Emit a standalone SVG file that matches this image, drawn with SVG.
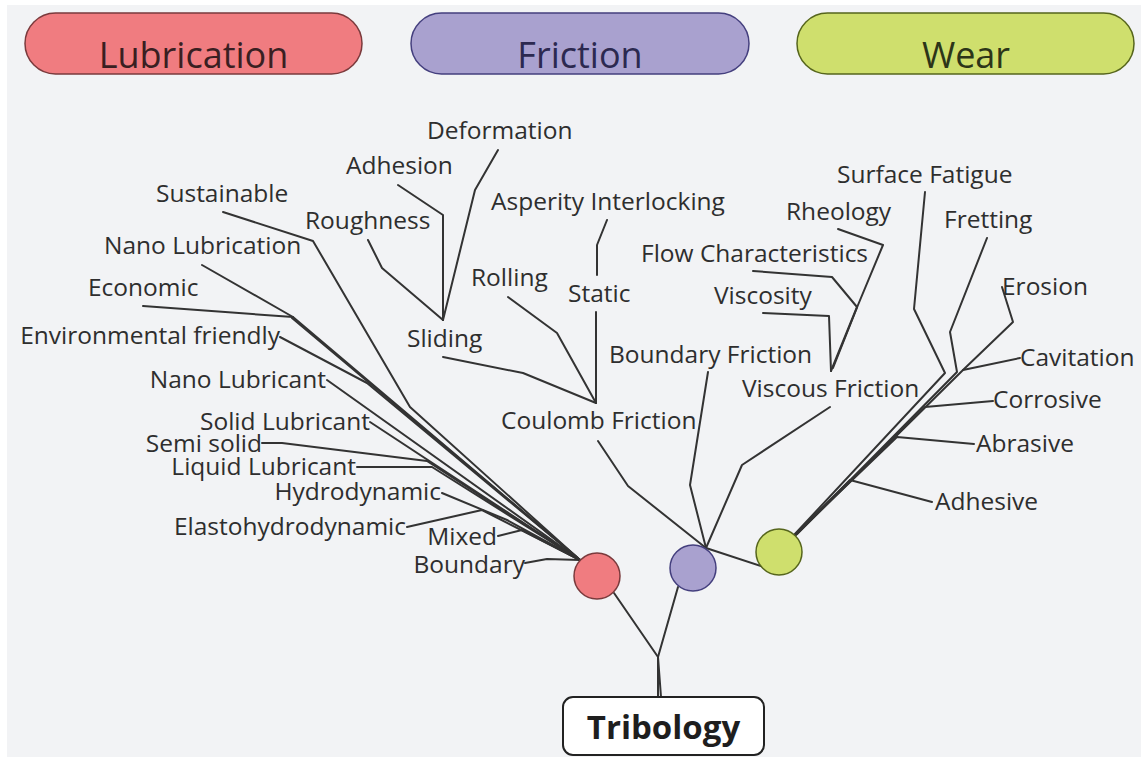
<svg xmlns="http://www.w3.org/2000/svg" width="1141" height="757" viewBox="0 0 1141 757">
<style>
.bg{fill:#f2f3f5}
.pill{stroke-width:1.5}
.pt{font-family:"Open Sans","Liberation Sans",sans-serif;font-size:36px;text-anchor:middle}
.lb{font-family:"Open Sans","Liberation Sans",sans-serif;font-size:24.5px;fill:#2e2e2e}
.e{text-anchor:end}
.c{fill:none;stroke:#333;stroke-width:2;stroke-linejoin:round;stroke-linecap:round}
.red{fill:#f07c80;stroke:#7a3a3c}
.pur{fill:#a9a1cf;stroke:#443f7e}
.grn{fill:#cfdf6d;stroke:#56651c}
</style>
<rect width="1141" height="757" fill="#ffffff"/>
<rect class="bg" x="7" y="5" width="1134" height="752"/>

<g id="legend-lubrication"><rect class="pill red" x="25" y="13" width="337" height="61" rx="30.5"/><text class="pt" x="193.5" y="68" fill="#3a1f22">Lubrication</text></g>
<g id="legend-friction"><rect class="pill pur" x="411" y="13" width="338" height="61" rx="30.5"/><text class="pt" x="580" y="68" fill="#2c2950">Friction</text></g>
<g id="legend-wear"><rect class="pill grn" x="797" y="13" width="337" height="61" rx="30.5"/><text class="pt" x="966" y="68" fill="#2c3518">Wear</text></g>

<g id="connectors" class="c">
<!-- trunk -->
<polyline points="658,697 658,657"/>
<polyline points="661,697 658,657"/>
<polyline points="658,657 614,593"/>
<polyline points="658,657 678,587"/>
<!-- lubrication -->
<polyline points="525,563 547,559 580,560"/>
<polyline points="498,536 522,530 580,560"/>
<polyline points="407,527 482,510 580,560"/>
<polyline points="442,493 507,520 580,560"/>
<polyline points="357,467 432,467 580,560"/>
<polyline points="262,443 282,443 427,461 580,560"/>
<polyline points="370,422 580,560"/>
<polyline points="327,380 580,560"/>
<polyline points="280,337 367,383 580,560"/>
<polyline points="143,306 293,317 580,560"/>
<polyline points="202,265 293,317"/>
<polyline points="292,318 578,558"/>
<polyline points="223,212 313,241 410,407 580,560"/>
<!-- friction -->
<polyline points="706,548 628,486 598,441"/>
<polyline points="706,548 690,485 708,372"/>
<polyline points="706,548 742,465 830,407"/>
<polyline points="706,548 764,567"/>
<polyline points="596,403 523,373 443,357"/>
<polyline points="596,403 557,333 508,297"/>
<polyline points="596,403 596,312"/>
<polyline points="597,275 597,245 607,220"/>
<polyline points="443,320 382,268 368,240"/>
<polyline points="443,320 443,215 398,185"/>
<polyline points="443,320 475,190 498,150"/>
<polyline points="831,371 829,316 763,313"/>
<polyline points="831,371 857,307 832,277 753,271"/>
<polyline points="833,368 858,305 883,245 838,229"/>
<!-- wear -->
<polyline points="795,535 850,480 932,502"/>
<polyline points="796,534 897,437 974,444"/>
<polyline points="797,533 925,407 993,401"/>
<polyline points="797,534 963,370 1020,358"/>
<polyline points="963,370 1013,322 1002,287"/>
<polyline points="796,535 957,372 950,332 987,238"/>
<polyline points="794,535 945,373 914,309 925,192"/>
</g>

<g id="node-lubrication"><circle class="red" cx="597" cy="576" r="23" stroke-width="1.5"/></g>
<g id="node-friction"><circle class="pur" cx="693" cy="568" r="23" stroke-width="1.5"/></g>
<g id="node-wear"><circle class="grn" cx="779" cy="552" r="23" stroke-width="1.5"/></g>
<g id="node-tribology"><rect x="563" y="697" width="201" height="58" rx="10" fill="#ffffff" stroke="#222" stroke-width="2"/><text x="663.5" y="739" font-family="'Open Sans','Liberation Sans',sans-serif" font-size="33" font-weight="bold" text-anchor="middle" fill="#1e1e1e">Tribology</text></g>

<g id="label-deformation"><text class="lb" x="427" y="139">Deformation</text></g>
<g id="label-adhesion"><text class="lb" x="346" y="174">Adhesion</text></g>
<g id="label-sustainable"><text class="lb" x="156" y="202">Sustainable</text></g>
<g id="label-asperity"><text class="lb" x="491" y="210">Asperity Interlocking</text></g>
<g id="label-surface-fatigue"><text class="lb" x="837" y="183">Surface Fatigue</text></g>
<g id="label-rheology"><text class="lb" x="786" y="220">Rheology</text></g>
<g id="label-fretting"><text class="lb" x="944" y="228">Fretting</text></g>
<g id="label-roughness"><text class="lb" x="305" y="229">Roughness</text></g>
<g id="label-nano-lubrication"><text class="lb" x="104" y="254">Nano Lubrication</text></g>
<g id="label-flow"><text class="lb" x="641" y="262">Flow Characteristics</text></g>
<g id="label-rolling"><text class="lb" x="471" y="286">Rolling</text></g>
<g id="label-economic"><text class="lb" x="88" y="296">Economic</text></g>
<g id="label-erosion"><text class="lb" x="1002" y="295">Erosion</text></g>
<g id="label-static"><text class="lb" x="568" y="302">Static</text></g>
<g id="label-viscosity"><text class="lb" x="714" y="304">Viscosity</text></g>
<g id="label-environmental"><text class="lb e" x="280" y="344">Environmental friendly</text></g>
<g id="label-sliding"><text class="lb" x="407" y="347">Sliding</text></g>
<g id="label-boundary-friction"><text class="lb" x="609" y="363">Boundary Friction</text></g>
<g id="label-cavitation"><text class="lb" x="1020" y="366">Cavitation</text></g>
<g id="label-nano-lubricant"><text class="lb e" x="326" y="388">Nano Lubricant</text></g>
<g id="label-viscous-friction"><text class="lb" x="742" y="397">Viscous Friction</text></g>
<g id="label-corrosive"><text class="lb" x="993" y="408">Corrosive</text></g>
<g id="label-solid-lubricant"><text class="lb e" x="370" y="430">Solid Lubricant</text></g>
<g id="label-coulomb"><text class="lb" x="501" y="429">Coulomb Friction</text></g>
<g id="label-semi-solid"><text class="lb e" x="262" y="452">Semi solid</text></g>
<g id="label-abrasive"><text class="lb" x="976" y="452">Abrasive</text></g>
<g id="label-liquid"><text class="lb e" x="356" y="475">Liquid Lubricant</text></g>
<g id="label-hydrodynamic"><text class="lb e" x="441" y="500">Hydrodynamic</text></g>
<g id="label-adhesive"><text class="lb" x="935" y="510">Adhesive</text></g>
<g id="label-ehd"><text class="lb e" x="406" y="535">Elastohydrodynamic</text></g>
<g id="label-mixed"><text class="lb e" x="497" y="545">Mixed</text></g>
<g id="label-boundary"><text class="lb e" x="525" y="573">Boundary</text></g>
</svg>
